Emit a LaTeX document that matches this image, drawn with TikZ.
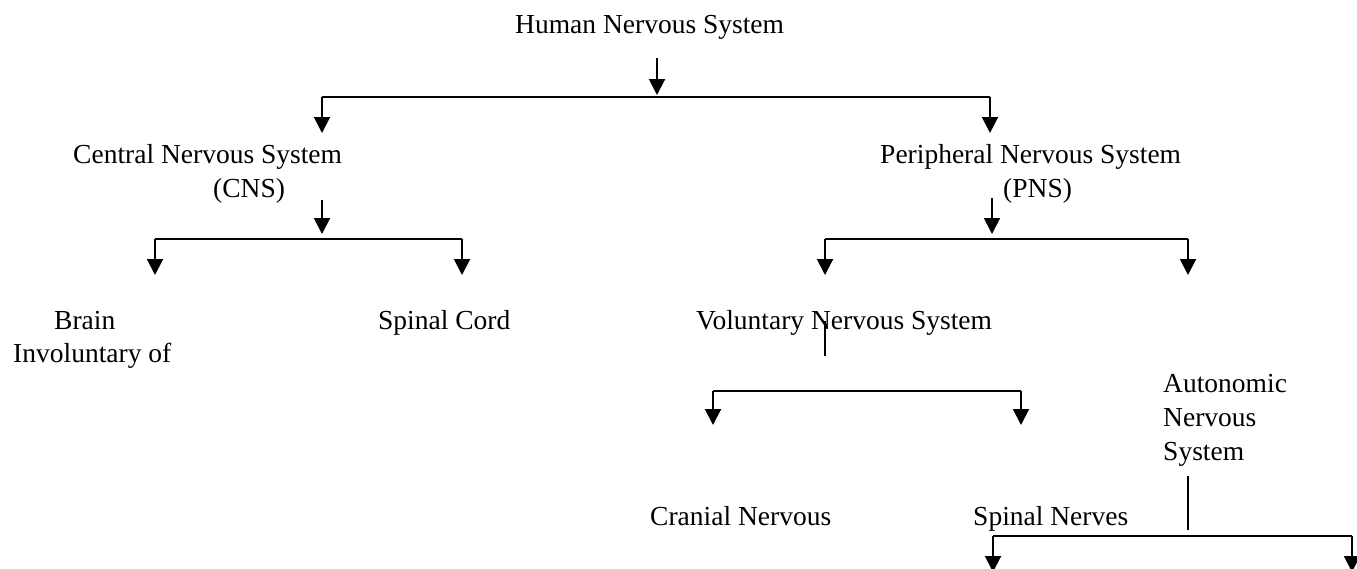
\documentclass[tikz,border=0pt]{standalone}
\usepackage{fontspec}
\setmainfont{Liberation Serif}
\usetikzlibrary{arrows.meta}

\tikzset{
    txt/.style={inner sep=0pt, anchor=base west, align=left,
        font=\fontsize{27.5}{34}\selectfont},
    trait/.style={line width=2pt},
    fl/.style={trait, -{Triangle[width=16pt,length=16pt]}},
    fin/.style={line width=1.3pt},
}

% fourche : nom, x gauche, x droite, hauteur, bout des fleches
\newcommand{\fourche}[5]{
    \coordinate (#1g) at (#2,#4);
    \coordinate (#1d) at (#3,#4);
    \coordinate (#1gb) at (#2,#5);
    \coordinate (#1db) at (#3,#5);
    \draw[trait] (#1g) -- (#1d);
    \draw[fl] (#1g) -- (#1gb);
    \draw[fl] (#1d) -- (#1db);
}

\begin{document}
\begin{tikzpicture}[x=1pt,y=-1pt]
    \useasboundingbox (0,0) rectangle (1357,568);

    % textes
    \node[txt] (hns) at (515,33) {Human Nervous System};
    \node[txt] (cns) at (73,163) {Central Nervous System};
    \node[txt] (cnsb) at (213,197) {(CNS)};
    \node[txt] (pns) at (880,163) {Peripheral Nervous System};
    \node[txt] (pnsb) at (1003,197) {(PNS)};
    \node[txt] (brain) at (54,329) {Brain};
    \node[txt] (invol) at (13,362) {Involuntary of};
    \node[txt] (cord) at (378,329) {Spinal Cord};
    \node[txt] (vol) at (696,329) {Voluntary Nervous System};
    \node[txt] (auto) at (1163,460) {Autonomic\\Nervous\\System};
    \node[txt] (cran) at (650,525) {Cranial Nervous};
    \node[txt] (nerv) at (973,525) {Spinal Nerves};

    % niveau 1
    \coordinate (a1) at (657,58);
    \coordinate (a1b) at (657,95);
    \draw[fl] (a1) -- (a1b);
    \fourche{f1}{322}{990}{97}{133}

    % CNS
    \coordinate (a2) at (322,200);
    \coordinate (a2b) at (322,234);
    \draw[fl] (a2) -- (a2b);
    \fourche{f2}{155}{462}{239}{275}

    % PNS
    \coordinate (a3) at (992,198);
    \coordinate (a3b) at (992,234);
    \draw[fl] (a3) -- (a3b);
    \fourche{f3}{825}{1188}{239}{275}

    % volontaire
    \coordinate (v1) at (825,321);
    \coordinate (v1b) at (825,356);
    \draw[fin] (v1) -- (v1b);
    \fourche{f4}{713}{1021}{391}{425}

    % autonome
    \coordinate (n1) at (1188,476);
    \coordinate (n1b) at (1188,530);
    \draw[fin] (n1) -- (n1b);
    \fourche{f5}{993}{1352}{536}{572}

\end{tikzpicture}
\end{document}
